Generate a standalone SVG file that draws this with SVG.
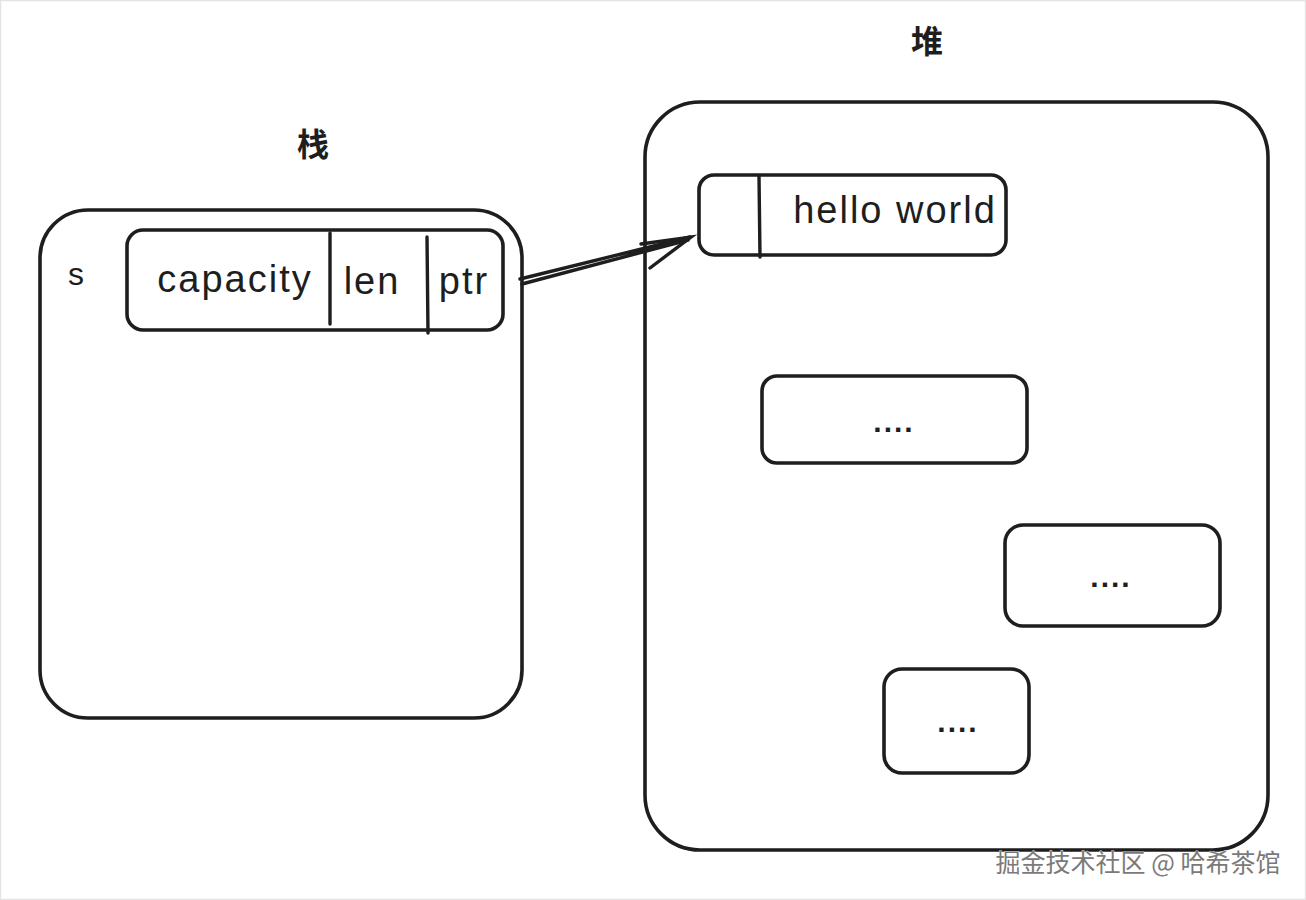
<svg xmlns="http://www.w3.org/2000/svg" width="1306" height="900" viewBox="0 0 1306 900">
<style>
.box{fill:none;stroke:#1e1e1e;stroke-width:3.6;stroke-linecap:round;stroke-linejoin:round}
.ln{fill:none;stroke:#1e1e1e;stroke-width:3.4;stroke-linecap:round}
.t{font-family:"Liberation Sans","Noto Sans",sans-serif;fill:#1e1e1e;text-anchor:middle;dominant-baseline:central;letter-spacing:2px}
.cjk{font-family:"Noto Sans CJK SC",sans-serif;fill:#1e1e1e;text-anchor:middle;dominant-baseline:central;font-weight:bold}
</style>
<rect x="0.5" y="0.5" width="1305" height="899" fill="#fff" stroke="#e4e4e4" stroke-width="1.5"/>
<g id="stack">
<rect class="box" x="40" y="210" width="482" height="508" rx="48"/>
<text class="cjk" x="313" y="142" font-size="32">栈</text>
<text class="t" x="77" y="274" font-size="32">s</text>
</g>
<g id="struct">
<rect class="box" x="127" y="230" width="376" height="100" rx="16"/>
<line class="ln" x1="330" y1="233" x2="330" y2="324"/>
<line class="ln" x1="427" y1="237" x2="428" y2="333"/>
<text class="t" x="235" y="279" font-size="38">capacity</text>
<text class="t" x="372" y="281" font-size="38">len</text>
<text class="t" x="464" y="281" font-size="38">ptr</text>
</g>
<g id="heap">
<rect class="box" x="645" y="102" width="623" height="748" rx="55"/>
<text class="cjk" x="927" y="39" font-size="32">堆</text>
</g>
<g id="hello">
<rect class="box" x="699" y="175" width="307" height="80" rx="15"/>
<line class="ln" x1="759" y1="176" x2="760" y2="257"/>
<text class="t" x="895" y="210" font-size="38">hello world</text>
</g>
<g id="box2">
<rect class="box" x="762" y="376" width="265" height="87" rx="15"/>
<text class="t" x="894" y="421" font-size="30" font-weight="bold">....</text>
</g>
<g id="box3">
<rect class="box" x="1005" y="525" width="215" height="101" rx="18"/>
<text class="t" x="1111" y="576" font-size="30" font-weight="bold">....</text>
</g>
<g id="box4">
<rect class="box" x="884" y="669" width="145" height="104" rx="18"/>
<text class="t" x="958" y="721" font-size="30" font-weight="bold">....</text>
</g>
<g id="connectors">
<path class="ln" d="M520 279 L690 237 M522 284 L688 240"/>
<path class="ln" d="M641 244 L691 237 L650 268"/>
</g>
<text x="1138" y="861" font-family="Noto Sans CJK SC,sans-serif" font-size="25" text-anchor="middle" dominant-baseline="central" fill="#7a7a7a" stroke="#fff" stroke-width="0.6" paint-order="stroke">掘金技术社区 @ 哈希茶馆</text>
</svg>
